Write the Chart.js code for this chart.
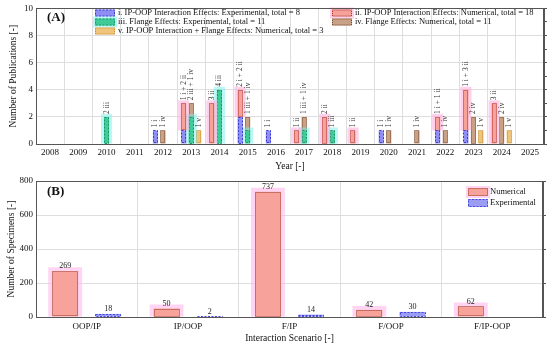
<!DOCTYPE html>
<html>
<head>
<meta charset="utf-8">
<script src="https://cdn.jsdelivr.net/npm/chart.js@4.4.1/dist/chart.umd.min.js"></script>
<style>
  html, body { margin: 0; padding: 0; background: #fff; }
  #wrapA { position: absolute; left: 0; top: 0; width: 550px; height: 172px; }
  #wrapB { position: absolute; left: 0; top: 172px; width: 550px; height: 174px; }
</style>
</head>
<body>
<div id="wrapA"><canvas id="pubChart"></canvas></div>
<div id="wrapB"><canvas id="specChart"></canvas></div>
<script>
// (A) publications per year
const years = ["2008","2009","2010","2011","2012","2013","2014","2015","2016","2017","2018","2019","2020","2021","2022","2023","2024","2025"];
const ipoopExp = [0,0,0,0,1,1,0,2,1,0,0,0,1,0,1,1,0,0];   // i
const ipoopNum = [0,0,0,0,0,2,3,2,0,1,2,1,0,0,1,3,3,0];   // ii
const flangeExp = [0,0,2,0,0,2,4,1,0,1,1,0,0,0,0,0,0,0];  // iii
const flangeNum = [0,0,0,0,1,1,0,1,0,1,0,0,1,1,1,2,2,0];  // iv
const comboNum = [0,0,0,0,0,1,0,0,0,0,0,0,0,0,0,1,1,0];   // v

// (B) specimens per interaction scenario
const scenarios = ["OOP/IP","IP/OOP","F/IP","F/OOP","F/IP-OOP"];
const specNum = [269,50,737,42,62];
const specExp = [18,2,14,30,0];

const serif = "'Liberation Serif', 'Times New Roman', serif";
const ink = "#111";
const gridCol = "#dedede";
const frame = "#555";
const sum = arr => arr.reduce((a, b) => a + b, 0);
const nz = arr => arr.map(v => v || null);

// halo + dashed outline around bars
const barStyle = {
  id: "barStyle",
  beforeDatasetDraw(chart, args) {
    const ds = chart.data.datasets[args.index];
    const ctx = chart.ctx;
    if (!ds.halo) return;
    ctx.save();
    ctx.fillStyle = ds.halo;
    args.meta.data.forEach((bar, i) => {
      if (ds.data[i] == null) return;
      const { x, y, base, width } = bar.getProps(["x", "y", "base", "width"], true);
      ctx.fillRect(x - width / 2 - ds.haloSize, y - ds.haloSize, width + ds.haloSize * 2, base - y + ds.haloSize);
    });
    ctx.restore();
  },
  afterDatasetDraw(chart, args) {
    const ds = chart.data.datasets[args.index];
    if (!ds.edge) return;
    const ctx = chart.ctx;
    ctx.save();
    ctx.strokeStyle = ds.edge;
    ctx.lineWidth = 1;
    ctx.setLineDash(ds.dash || []);
    args.meta.data.forEach((bar, i) => {
      if (ds.data[i] == null) return;
      const { x, y, base, width } = bar.getProps(["x", "y", "base", "width"], true);
      ctx.strokeRect(Math.round(x - width / 2) + .5, Math.round(y) + .5, Math.round(width) - 1, Math.round(base - y) - 1);
    });
    ctx.restore();
  }
};

const frameBox = {
  id: "frameBox",
  afterDraw(chart) {
    const { ctx, chartArea: a } = chart;
    ctx.save();
    ctx.strokeStyle = frame;
    ctx.lineWidth = 1;
    ctx.strokeRect(Math.round(a.left) + .5, Math.round(a.top) + .5, Math.round(a.right - a.left) - 1, Math.round(a.bottom - a.top));
    ctx.restore();
  }
};

function drawSwatch(ctx, ds, x, y, w, h) {
  if (ds.halo) { ctx.fillStyle = ds.halo; ctx.fillRect(x - 2, y - 2, w + 4, h + 4); }
  ctx.fillStyle = ds.backgroundColor;
  ctx.fillRect(x, y, w, h);
  ctx.strokeStyle = ds.edge;
  ctx.lineWidth = 1;
  ctx.setLineDash(ds.dash || []);
  ctx.strokeRect(x + .5, y + .5, w - 1, h - 1);
  ctx.setLineDash([]);
}

function panelTag(ctx, text, x, y) {
  ctx.font = `bold 13px ${serif}`;
  ctx.fillStyle = ink;
  ctx.textAlign = "left";
  ctx.textBaseline = "middle";
  ctx.fillText(text, x, y);
}

// rotated stack labels, legend and (A) tag
const stackGroups = [[0, 1], [2, 3], [4]];
const legendSlots = [[0, 0], [1, 0], [0, 1], [1, 1], [0, 2]];
const pubDecor = {
  id: "pubDecor",
  afterDatasetsDraw(chart) {
    const ctx = chart.ctx;
    const sets = chart.data.datasets;
    ctx.save();
    ctx.font = `7.5px ${serif}`;
    ctx.fillStyle = "#333";
    ctx.textAlign = "left";
    ctx.textBaseline = "middle";
    years.forEach((yr, j) => {
      stackGroups.forEach(group => {
        const used = group.filter(k => sets[k].data[j]);
        if (!used.length) return;
        const text = used.map(k => `${sets[k].data[j]} ${sets[k].tag}`).join(" + ");
        const bar = chart.getDatasetMeta(used[used.length - 1]).data[j];
        ctx.save();
        ctx.translate(bar.x, bar.y - 3);
        ctx.rotate(-Math.PI / 2);
        ctx.fillText(text, 0, 0);
        ctx.restore();
      });
    });
    ctx.restore();
  },
  afterDraw(chart) {
    const ctx = chart.ctx;
    ctx.save();
    panelTag(ctx, "(A)", 47, 18);
    const colX = [95, 332];
    const rowY = [13, 22, 31];
    ctx.font = `8.5px ${serif}`;
    legendSlots.forEach(([c, r], k) => {
      const ds = chart.data.datasets[k];
      drawSwatch(ctx, ds, colX[c], rowY[r] - 3.5, 20, 7);
      ctx.fillStyle = ink;
      ctx.textAlign = "left";
      ctx.textBaseline = "middle";
      ctx.fillText(ds.label, colX[c] + 23, rowY[r]);
    });
    ctx.restore();
  }
};

const specDecor = {
  id: "specDecor",
  afterDatasetsDraw(chart) {
    const ctx = chart.ctx;
    ctx.save();
    ctx.font = `8px ${serif}`;
    ctx.fillStyle = "#222";
    ctx.textAlign = "center";
    ctx.textBaseline = "bottom";
    chart.data.datasets.forEach((ds, k) => {
      chart.getDatasetMeta(k).data.forEach((bar, i) => {
        if (ds.data[i] == null) return;
        ctx.fillText(String(ds.data[i]), bar.x, bar.y - 1);
      });
    });
    ctx.restore();
  },
  afterDraw(chart) {
    const ctx = chart.ctx;
    ctx.save();
    panelTag(ctx, "(B)", 47, 20);
    ctx.font = `8.5px ${serif}`;
    chart.data.datasets.forEach((ds, k) => {
      const y = 20 + k * 11;
      drawSwatch(ctx, ds, 468, y - 4, 20, 8);
      ctx.fillStyle = ink;
      ctx.textAlign = "left";
      ctx.textBaseline = "middle";
      ctx.fillText(ds.label, 490, y);
    });
    ctx.restore();
  }
};

const tickFont = { family: serif, size: 9 };
const titleFont = { family: serif, size: 9.5 };

const styleI = { backgroundColor: "#8f8ff3", edge: "#3b3bd6", dash: [2, 1.5] };
const styleII = { backgroundColor: "#f6a29a", edge: "#a8322a", dash: [1, 1], halo: "rgba(255,170,220,0.55)", haloSize: 3 };
const styleIII = { backgroundColor: "#3ecb98", edge: "#1c9966", dash: [2, 1.5], halo: "rgba(120,240,235,0.5)", haloSize: 3 };
const styleIV = { backgroundColor: "#c9a186", edge: "#76472a", dash: [1, 1] };
const styleV = { backgroundColor: "#efc57e", edge: "#c98a2a", dash: [1, 1] };

new Chart(document.getElementById("pubChart"), {
  type: "bar",
  data: {
    labels: years,
    datasets: [
      { label: `i. IP-OOP Interaction Effects: Experimental, total = ${sum(ipoopExp)}`, tag: "i", data: nz(ipoopExp), stack: "ipoop", ...styleI },
      { label: `ii. IP-OOP Interaction Effects: Numerical, total = ${sum(ipoopNum)}`, tag: "ii", data: nz(ipoopNum), stack: "ipoop", ...styleII },
      { label: `iii. Flange Effects: Experimental, total = ${sum(flangeExp)}`, tag: "iii", data: nz(flangeExp), stack: "flange", ...styleIII },
      { label: `iv. Flange Effects: Numerical, total = ${sum(flangeNum)}`, tag: "iv", data: nz(flangeNum), stack: "flange", ...styleIV },
      { label: `v. IP-OOP Interaction + Flange Effects: Numerical, total = ${sum(comboNum)}`, tag: "v", data: nz(comboNum), stack: "combo", ...styleV }
    ]
  },
  options: {
    responsive: true,
    maintainAspectRatio: false,
    animation: false,
    categoryPercentage: 0.8,
    barPercentage: 0.68,
    borderWidth: 0,
    layout: { padding: { top: 7, right: 3, left: 0, bottom: 0 } },
    plugins: { legend: { display: false }, tooltip: { enabled: false } },
    scales: {
      x: {
        stacked: true,
        grid: { color: gridCol, drawTicks: false },
        border: { color: frame },
        ticks: { font: tickFont, color: ink, padding: 3, maxRotation: 0, autoSkip: false },
        title: { display: true, text: "Year [-]", font: titleFont, color: ink, padding: 0 },
        afterFit: s => { s.height = 28; }
      },
      y: {
        stacked: true,
        min: 0,
        max: 10,
        grid: { color: gridCol, drawTicks: false },
        border: { color: frame },
        ticks: { stepSize: 1, font: tickFont, color: ink, padding: 3 },
        title: { display: true, text: "Number of Publications [-]", font: titleFont, color: ink, padding: { top: 8, bottom: 0 } },
        afterFit: s => { s.width = 36; }
      },
      y2: {
        position: "right",
        min: 0,
        max: 10,
        ticks: { display: false, stepSize: 1 },
        grid: { drawOnChartArea: false, tickLength: 3, color: frame },
        border: { color: frame },
        afterFit: s => { s.width = 3; }
      }
    }
  },
  plugins: [barStyle, pubDecor, frameBox]
});

new Chart(document.getElementById("specChart"), {
  type: "bar",
  data: {
    labels: scenarios,
    datasets: [
      { label: "Numerical", data: nz(specNum), backgroundColor: "#f7a39c", edge: "#9b3a22", dash: [1, 1], halo: "rgba(255,185,235,0.6)", haloSize: 4 },
      { label: "Experimental", data: nz(specExp), backgroundColor: "#9b9df5", edge: "#4646e0", dash: [2, 1.5] }
    ]
  },
  options: {
    responsive: true,
    maintainAspectRatio: false,
    animation: false,
    categoryPercentage: 0.85,
    barPercentage: 0.6,
    borderWidth: 0,
    layout: { padding: { top: 9, right: 4, left: 0, bottom: 0 } },
    plugins: { legend: { display: false }, tooltip: { enabled: false } },
    scales: {
      x: {
        grid: { color: gridCol, drawTicks: false },
        border: { color: frame },
        ticks: { font: tickFont, color: ink, padding: 4 },
        title: { display: true, text: "Interaction Scenario [-]", font: titleFont, color: ink, padding: { top: 0, bottom: 2 } },
        afterFit: s => { s.height = 29; }
      },
      y: {
        min: 0,
        max: 800,
        grid: { color: gridCol, drawTicks: false },
        border: { color: frame },
        ticks: { stepSize: 200, font: tickFont, color: ink, padding: 3 },
        title: { display: true, text: "Number of Specimens [-]", font: titleFont, color: ink, padding: { top: 6, bottom: 0 } },
        afterFit: s => { s.width = 36; }
      },
      y2: {
        position: "right",
        min: 0,
        max: 800,
        ticks: { display: false, stepSize: 200 },
        grid: { drawOnChartArea: false, tickLength: 3, color: frame },
        border: { color: frame },
        afterFit: s => { s.width = 3; }
      }
    }
  },
  plugins: [barStyle, specDecor, frameBox]
});
</script>
</body>
</html>
